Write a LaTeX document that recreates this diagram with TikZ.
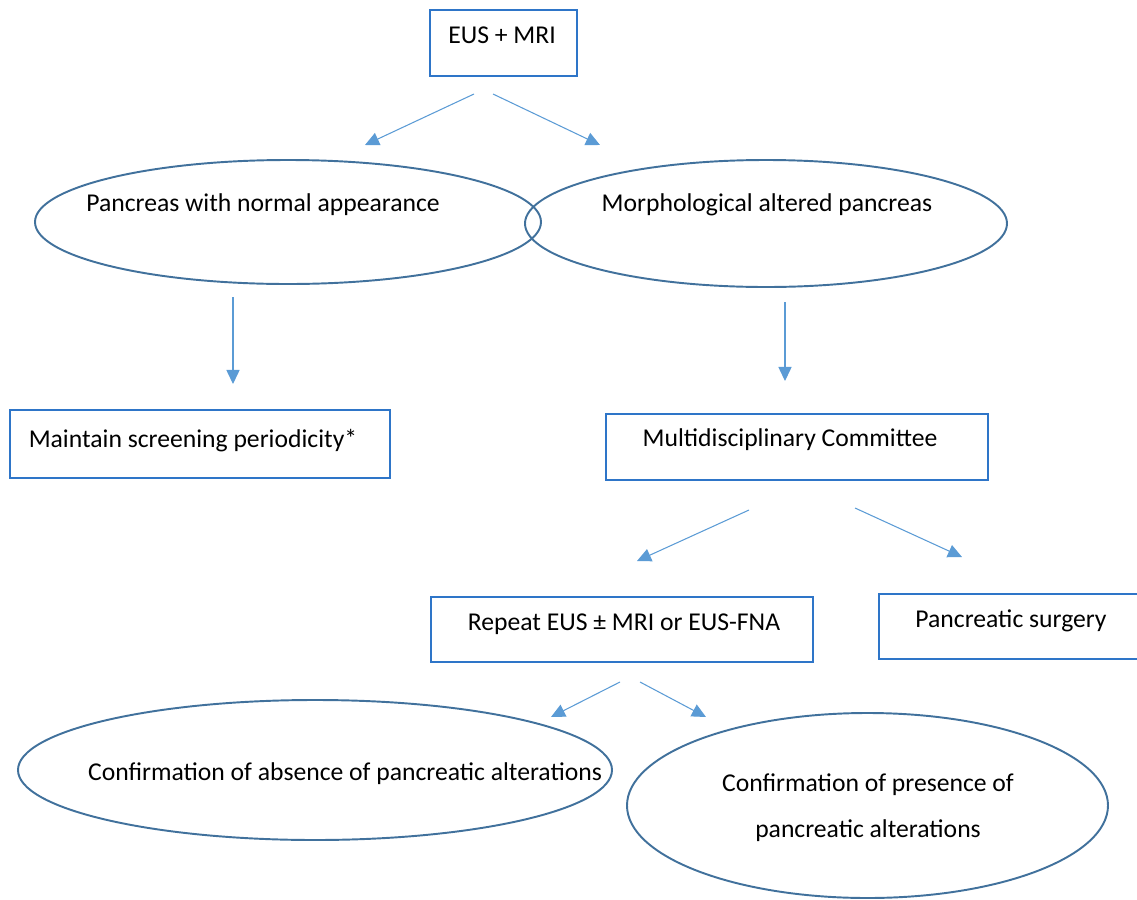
\documentclass[tikz,border=0pt]{standalone}
\usepackage{fontspec}
\setmainfont{Carlito}
\usetikzlibrary{arrows.meta,shapes.geometric}
\definecolor{boxblue}{RGB}{46,117,200}
\definecolor{ellblue}{RGB}{65,113,156}
\definecolor{arrowblue}{RGB}{91,155,213}
\newlength{\px}
\setlength{\px}{0.02cm}

\begin{document}
\begin{tikzpicture}[x=0.02cm, y=-0.02cm,
        box/.style={rectangle,draw=boxblue,line width=1.1pt,inner sep=0pt},
        ell/.style={ellipse,draw=ellblue,line width=1.1pt,inner sep=0pt},
        txt/.style={anchor=base,inner sep=0pt,font=\fontsize{14.6}{17.5}\selectfont},
        arrow/.style={-{Triangle[length=8pt,width=7.5pt]},draw=arrowblue,line width=0.6pt}]
        \useasboundingbox (0,0) rectangle (1137,900);
        \clip (0,0) rectangle (1137,900);
        % shapes
        \node[box,minimum width=147\px,minimum height=66\px] (eus) at (503.5,43) {};
        \node[ell,minimum width=506\px,minimum height=124\px] (normal) at (288,222) {};
        \node[ell,minimum width=482\px,minimum height=127\px] (altered) at (766,223.5) {};
        \node[box,minimum width=380\px,minimum height=68\px] (maintain) at (200,444) {};
        \node[box,minimum width=382\px,minimum height=66\px] (committee) at (797,447) {};
        \node[box,minimum width=382\px,minimum height=65\px] (repeat) at (622,629.5) {};
        \node[box,minimum width=266\px,minimum height=65\px] (surgery) at (1012,626.5) {};
        \node[ell,minimum width=594\px,minimum height=140\px] (absence) at (315,770) {};
        \node[ell,minimum width=481\px,minimum height=185\px] (presence) at (867.5,805.5) {};
        % texts
        \node[txt] (eustxt) at (502,43) {EUS + MRI};
        \node[txt] (normaltxt) at (263,211) {Pancreas with normal appearance};
        \node[txt] (alteredtxt) at (767,211) {Morphological altered pancreas};
        \node[txt] (maintaintxt) at (193,447) {Maintain screening periodicity*};
        \node[txt] (committeetxt) at (790,446) {Multidisciplinary Committee};
        \node[txt] (repeattxt) at (624,630) {Repeat EUS ± MRI or EUS-FNA};
        \node[txt] (surgerytxt) at (1011,627) {Pancreatic surgery};
        \node[txt] (absencetxt) at (345,780) {Confirmation of absence of pancreatic alterations};
        \node[txt] (presencetxt1) at (868,791) {Confirmation of presence of};
        \node[txt] (presencetxt2) at (868,837) {pancreatic alterations};
        % arrow ends
        \coordinate (e1) at (474,94);   \coordinate (n1) at (365,145);
        \coordinate (e2) at (493,94);   \coordinate (a1) at (600,145);
        \coordinate (n2) at (233,297);  \coordinate (m1) at (233,384);
        \coordinate (a2) at (785,302);  \coordinate (c1) at (785,381);
        \coordinate (c2) at (749,510);  \coordinate (r1) at (637,561);
        \coordinate (c3) at (855,508);  \coordinate (s1) at (962,557);
        \coordinate (r2) at (620,682);  \coordinate (b1) at (551,717);
        \coordinate (r3) at (640,682);  \coordinate (p1) at (706,717);
        \draw[arrow] (e1) -- (n1);
        \draw[arrow] (e2) -- (a1);
        \draw[arrow] (n2) -- (m1);
        \draw[arrow] (a2) -- (c1);
        \draw[arrow] (c2) -- (r1);
        \draw[arrow] (c3) -- (s1);
        \draw[arrow] (r2) -- (b1);
        \draw[arrow] (r3) -- (p1);
      \end{tikzpicture}
\end{document}
